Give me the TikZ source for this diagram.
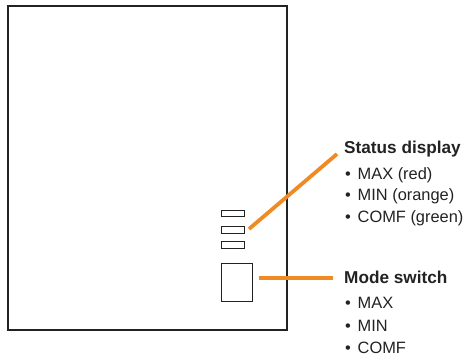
\documentclass[tikz,border=0pt]{standalone}
\usepackage{fontspec}
\setmainfont{Liberation Sans}
\definecolor{callout}{HTML}{F08A24}
\definecolor{edge}{HTML}{222222}
\begin{document}
\begin{tikzpicture}[x=1pt,y=-1pt,
  led/.style={draw=edge,line width=1pt,inner sep=0pt,minimum width=23pt,minimum height=6.5pt},
  lead/.style={draw=callout,line width=3.8pt},
  head/.style={anchor=base west,inner sep=0pt,text=edge,font=\fontsize{17.2}{18}\selectfont\bfseries},
  item/.style={anchor=base west,inner sep=0pt,text=edge,font=\fontsize{16.4}{18}\selectfont}]
\useasboundingbox (0,0) rectangle (468,361);
\node[draw=edge,line width=1.5pt,inner sep=0pt,minimum width=279pt,minimum height=324pt] (unit) at (147.5,168) {};
\node[led] (l1) at (232.5,213.5) {};
\node[led] (l2) at (232.5,230) {};
\node[led] (l3) at (232.5,245) {};
\node[draw=edge,line width=1pt,inner sep=0pt,minimum width=31pt,minimum height=38pt] (sw) at (236.5,282) {};
\node[head] (st) at (344,153) {Status display};
\node[item] (s1) at (345,179) {\makebox[12.5pt][l]{•}MAX (red)};
\node[item] (s2) at (345,200.5) {\makebox[12.5pt][l]{•}MIN (orange)};
\node[item] (s3) at (345,222) {\makebox[12.5pt][l]{•}COMF (green)};
\node[head] (md) at (344,283.5) {Mode switch};
\node[item] (m1) at (345,308.5) {\makebox[12.5pt][l]{•}MAX};
\node[item] (m2) at (345,331) {\makebox[12.5pt][l]{•}MIN};
\node[item] (m3) at (345,353.5) {\makebox[12.5pt][l]{•}COMF};
\coordinate (a1) at (249,229);
\coordinate (a2) at (337,154);
\coordinate (b1) at (259,278);
\coordinate (b2) at (333,278);
\draw[lead] (a1) -- (a2);
\draw[lead] (b1) -- (b2);
\end{tikzpicture}
\end{document}
